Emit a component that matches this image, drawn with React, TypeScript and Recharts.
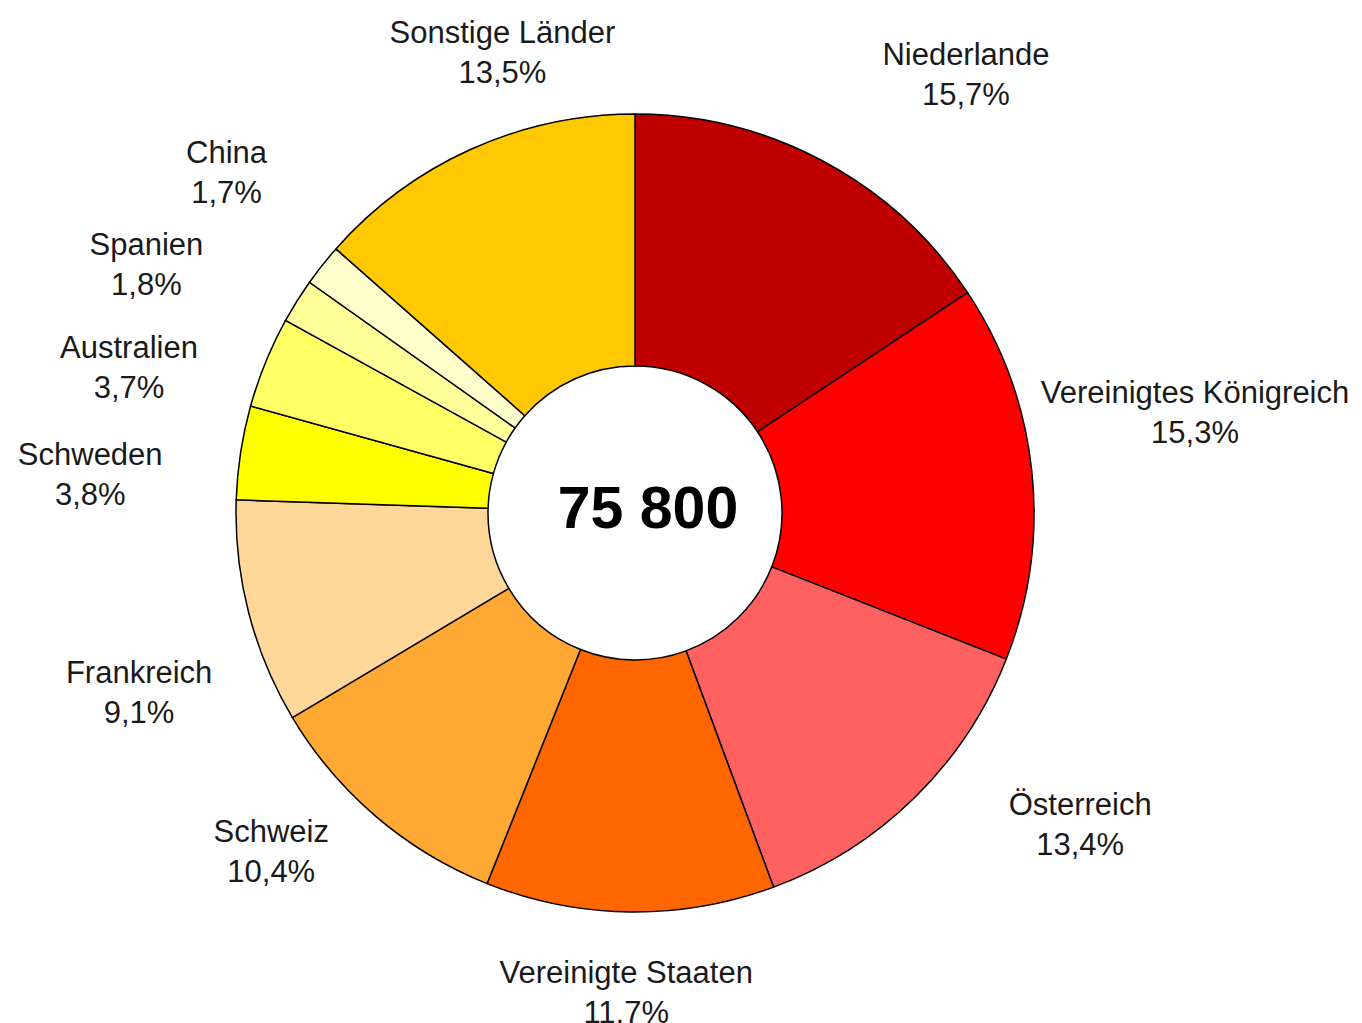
import React from 'react';
import { PieChart, Pie, Cell } from 'recharts';

// Share of arrivals by country of origin, in percent (clockwise from 12 o'clock)
const countries = [
  'Niederlande',
  'Vereinigtes Königreich',
  'Österreich',
  'Vereinigte Staaten',
  'Schweiz',
  'Frankreich',
  'Schweden',
  'Australien',
  'Spanien',
  'China',
  'Sonstige Länder',
];
const shares = [15.7, 15.3, 13.4, 11.7, 10.4, 9.1, 3.8, 3.7, 1.8, 1.7, 13.5];
const total = '75 800';

const colors = [
  '#C00000',
  '#FF0000',
  '#FF6060',
  '#FF6600',
  '#FFA833',
  '#FFD899',
  '#FFFF00',
  '#FFFF66',
  '#FFFF99',
  '#FFFFCC',
  '#FFC800',
];

// label layout: nudges away from the default radial spot (like hand-placed labels)
const LABEL_GAP = 140;
const labelNudge: [number, number][] = [
  [76, 36],
  [24, -44],
  [68, -74],
  [-2, -60],
  [-14, -72],
  [26, 44],
  [-12, 43],
  [-7, 58],
  [-32, 37],
  [14, -6],
  [89, 30],
];

const data = countries.map((name, i) => ({ name, value: shares[i] }));

const FONT = '"Liberation Sans", Arial, sans-serif';
const RAD = Math.PI / 180;
const CX = 635;
const CY = 513;

const renderLabel = (props: any) => {
  const { cx, cy, midAngle, outerRadius, index, name, value } = props;
  const r = outerRadius + LABEL_GAP;
  const [nx, ny] = labelNudge[index] || [0, 0];
  const x = cx + r * Math.cos(-midAngle * RAD) + nx;
  const y = cy + r * Math.sin(-midAngle * RAD) + ny;
  const pct = `${Number(value).toFixed(1).replace('.', ',')}%`;
  return (
    <text x={x} y={y} textAnchor="middle" fill="#1a1a1a" fontFamily={FONT} fontSize={31}>
      <tspan x={x} y={y - 9}>{name}</tspan>
      <tspan x={x} y={y + 31}>{pct}</tspan>
    </text>
  );
};

const App: React.FC = () => {
  return (
    <div style={{ position: 'absolute', left: 0, top: 0, width: 1362, height: 1023, background: '#fff' }}>
      <PieChart width={1362} height={1023} margin={{ top: 0, right: 0, bottom: 0, left: 0 }}>
        <Pie
          data={data}
          dataKey="value"
          nameKey="name"
          cx={CX}
          cy={CY}
          innerRadius={147}
          outerRadius={399}
          startAngle={90}
          endAngle={-270}
          stroke="#000"
          strokeWidth={1.5}
          label={renderLabel}
          labelLine={false}
          isAnimationActive={false}
        >
          {data.map((d, i) => (
            <Cell key={d.name} fill={colors[i]} />
          ))}
        </Pie>
        <text x={CX + 13} y={CY + 15} textAnchor="middle" fill="#000" fontFamily={FONT} fontSize={59} fontWeight="bold">
          {total}
        </text>
      </PieChart>
    </div>
  );
};

export default App;
